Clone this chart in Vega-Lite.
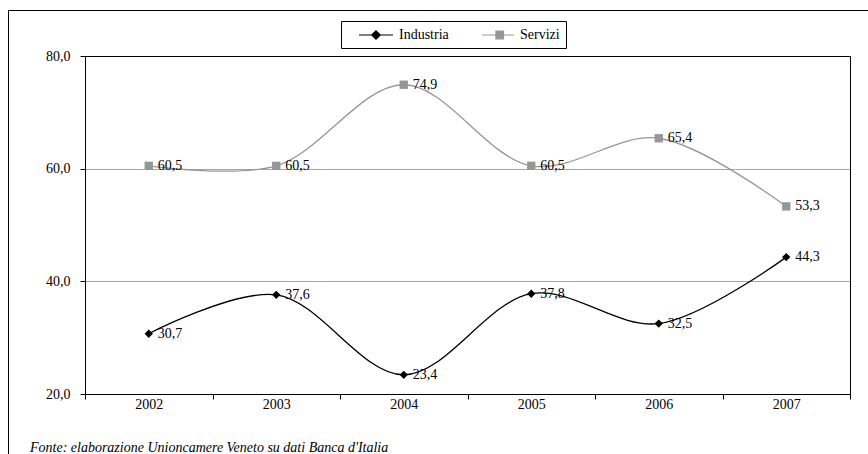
{
  "$schema": "https://vega.github.io/schema/vega-lite/v6.json",
  "autosize": {"type": "none"},
  "padding": {"left": 8, "top": 10, "right": 0, "bottom": 0},
  "width": 861,
  "height": 445,
  "config": {
    "view": {"stroke": "#000000", "strokeWidth": 1},
    "locale": {"number": {"decimal": ",", "thousands": ".", "grouping": [3], "currency": ["", " €"]}},
    "font": "Liberation Serif"
  },
  "title": {
    "text": "Fonte: elaborazione Unioncamere Veneto su dati Banca d'Italia",
    "orient": "bottom",
    "anchor": "start",
    "frame": "group",
    "offset": -14,
    "dx": 22,
    "font": "Liberation Serif",
    "fontSize": 14,
    "fontStyle": "italic",
    "fontWeight": "normal",
    "color": "#000000"
  },
  "data": {
    "values": [
      {"year": "2002", "series": "Industria", "value": 30.7},
      {"year": "2003", "series": "Industria", "value": 37.6},
      {"year": "2004", "series": "Industria", "value": 23.4},
      {"year": "2005", "series": "Industria", "value": 37.8},
      {"year": "2006", "series": "Industria", "value": 32.5},
      {"year": "2007", "series": "Industria", "value": 44.3},
      {"year": "2002", "series": "Servizi", "value": 60.5},
      {"year": "2003", "series": "Servizi", "value": 60.5},
      {"year": "2004", "series": "Servizi", "value": 74.9},
      {"year": "2005", "series": "Servizi", "value": 60.5},
      {"year": "2006", "series": "Servizi", "value": 65.4},
      {"year": "2007", "series": "Servizi", "value": 53.3}
    ]
  },
  "encoding": {
    "x": {
      "field": "year",
      "type": "ordinal",
      "sort": null,
      "scale": {"type": "band", "range": [77, 842], "paddingInner": 0, "paddingOuter": 0}
    },
    "y": {
      "field": "value",
      "type": "quantitative",
      "scale": {"domain": [20, 80], "range": [384, 46], "nice": false, "zero": false}
    },
    "color": {
      "field": "series",
      "type": "nominal",
      "scale": {"domain": ["Industria", "Servizi"], "range": ["#000000", "#969696"]}
    }
  },
  "layer": [
    {
      "mark": {"type": "line", "interpolate": "catmull-rom", "strokeWidth": 1.3},
      "encoding": {
        "x": {
          "field": "year",
          "type": "ordinal",
          "sort": null,
          "axis": {
            "orient": "bottom",
            "offset": -61,
            "title": null,
            "tickBand": "extent",
            "tickSize": 5,
            "tickColor": "#000000",
            "domainColor": "#000000",
            "labelPadding": -2,
            "labelAngle": 0,
            "labelFont": "Liberation Serif",
            "labelFontSize": 14,
            "labelColor": "#000000",
            "grid": false
          }
        },
        "y": {
          "field": "value",
          "type": "quantitative",
          "axis": {
            "orient": "left",
            "offset": -77,
            "title": null,
            "values": [20, 40, 60, 80],
            "format": ".1f",
            "tickSize": 5,
            "tickColor": "#000000",
            "domainColor": "#000000",
            "labelPadding": 10,
            "labelFont": "Liberation Serif",
            "labelFontSize": 14,
            "labelColor": "#000000",
            "grid": true,
            "gridColor": "#a6a6a6",
            "gridWidth": 1
          }
        },
        "color": {
          "field": "series",
          "type": "nominal",
          "legend": {
            "orient": "none",
            "legendX": 333,
            "legendY": 11,
            "direction": "horizontal",
            "title": null,
            "strokeColor": "#000000",
            "fillColor": "#ffffff",
            "padding": 6,
            "symbolSize": 196,
            "symbolStrokeWidth": 1.2,
            "labelOffset": 36,
            "columnPadding": 19,
            "labelFont": "Liberation Serif",
            "labelFontSize": 14,
            "labelColor": "#000000",
            "encode": {
              "symbols": {
                "update": {
                  "shape": {"signal": "datum.value === 'Industria' ? 'M0.57,0H5.43M2.39,0L3,-0.61L3.61,0L3,0.61Z' : 'M0.86,0H5.43M2.85,-0.54H3.93V0.54H2.85Z'"},
                  "fill": {"signal": "datum.value === 'Industria' ? '#000000' : '#969696'"},
                  "stroke": {"signal": "datum.value === 'Industria' ? '#000000' : '#969696'"},
                  "opacity": {"value": 1}
                }
              }
            }
          }
        }
      }
    },
    {
      "mark": {"type": "point", "filled": true, "size": 70, "opacity": 1},
      "encoding": {
        "x": {
          "field": "year",
          "type": "ordinal",
          "sort": null,
          "axis": {
            "orient": "top",
            "offset": -46,
            "title": null,
            "labels": false,
            "ticks": false,
            "grid": false,
            "domainColor": "#000000"
          }
        },
        "y": {
          "field": "value",
          "type": "quantitative",
          "axis": {
            "orient": "right",
            "offset": -19,
            "title": null,
            "labels": false,
            "ticks": false,
            "grid": false,
            "domainColor": "#000000"
          }
        },
        "shape": {
          "field": "series",
          "type": "nominal",
          "scale": {"domain": ["Industria", "Servizi"], "range": ["diamond", "square"]},
          "legend": null
        },
        "color": {"field": "series", "type": "nominal", "legend": null}
      }
    },
    {
      "mark": {
        "type": "text",
        "align": "left",
        "baseline": "middle",
        "dx": 9,
        "font": "Liberation Serif",
        "fontSize": 14,
        "fill": "#000000"
      },
      "encoding": {
        "x": {"field": "year", "type": "ordinal", "sort": null, "axis": null},
        "y": {"field": "value", "type": "quantitative", "axis": null},
        "text": {"field": "value", "type": "quantitative", "format": ".1f"},
        "color": {"value": "#000000"}
      }
    }
  ],
  "resolve": {
    "axis": {"x": "independent", "y": "independent"},
    "legend": {"color": "independent", "shape": "independent"}
  }
}
